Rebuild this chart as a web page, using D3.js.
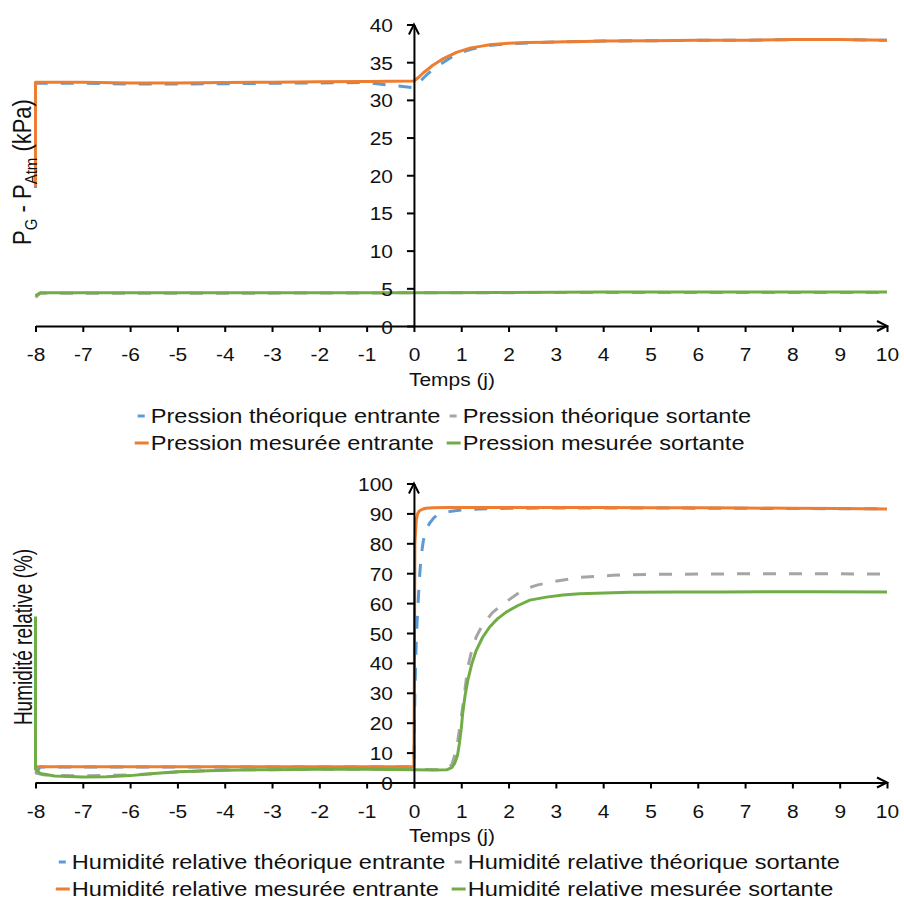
<!DOCTYPE html>
<html><head><meta charset="utf-8">
<script src="https://cdn.jsdelivr.net/npm/d3@7/dist/d3.min.js"></script>
<style>body{margin:0;background:#fff}text{font-family:"Liberation Sans",Arial,sans-serif;fill:#111}</style>
</head><body>
<svg id="c" width="904" height="914"></svg>
<script>
// ---------- data ----------
const xTicks = [-8,-7,-6,-5,-4,-3,-2,-1,0,1,2,3,4,5,6,7,8,9,10];
const pTicks = [0,5,10,15,20,25,30,35,40];
const hTicks = [0,10,20,30,40,50,60,70,80,90,100];
const xLabel = "Temps (j)";

const pLegend = ["Pression théorique entrante","Pression théorique sortante","Pression mesurée entrante","Pression mesurée sortante"];
const hLegend = ["Humidité relative théorique entrante","Humidité relative théorique sortante","Humidité relative mesurée entrante","Humidité relative mesurée sortante"];
const colors = ["#5B9BD5","#A5A5A5","#ED7D31","#70AD47"];
const dashed = [true,true,false,false];

// Pressure chart
const pEntX = [-8,-8,-7,-6,-5,-4,-3,-2,-1,0,0.1,0.2,0.3,0.4,0.5,0.6,0.7,0.8,0.9,1.0,1.2,1.4,1.6,1.8,2.0,2.4,2.8,3.2,3.6,4,5,6,7,8,9,10];
const pTheoEntY = [18.3,32.2,32.2,32.1,32.1,32.15,32.2,32.25,32.3,31.6,32.2,32.9,33.5,34.0,34.5,34.9,35.3,35.7,36.0,36.3,36.7,37.0,37.2,37.35,37.45,37.55,37.65,37.7,37.75,37.8,37.85,37.9,37.9,38.0,38.0,37.9];
const pMesEntY = [18.5,32.35,32.35,32.25,32.25,32.3,32.35,32.4,32.45,32.5,33.0,33.6,34.1,34.6,35.0,35.4,35.7,36.0,36.3,36.5,36.9,37.1,37.3,37.4,37.5,37.6,37.65,37.7,37.75,37.8,37.85,37.9,37.9,38.0,38.0,37.9];
const pTheoSorX = [-8,-7.9,-4,0,4,10];
const pTheoSorY = [3.8,4.35,4.35,4.4,4.45,4.45];
const pMesSorX = [-8,-7.9,-6,-4,-2,0,2,4,6,8,10];
const pMesSorY = [4.0,4.4,4.4,4.4,4.4,4.4,4.45,4.5,4.5,4.5,4.5];

// Humidity chart
const hTheoEntX = [-8,-7.9,-4,0,0.02,0.05,0.08,0.12,0.15,0.2,0.26,0.33,0.42,0.5,0.62,0.75,1.0,1.4,2,3,5,7,10];
const hTheoEntY = [3.0,5.2,5.2,5.2,30,48,58,69,75.5,81,84.5,86.7,88.5,89.5,90.2,90.6,91.1,91.5,91.7,91.8,91.8,91.7,91.5];
const hTheoSorX = [-8,-7.8,-7,-6,-5,-4,-2,0,0.5,0.7,0.8,0.9,0.96,1.02,1.07,1.14,1.22,1.32,1.42,1.53,1.66,1.81,2.0,2.3,2.6,2.94,3.5,4.2,5,6,7,8,9,10];
const hTheoSorY = [3.2,2.5,2.2,2.5,3.5,4.2,4.4,4.4,4.3,4.4,6,11,17.6,24,30,38.7,44,48.8,51.8,54.3,56.8,58.8,61,64.4,66,67.2,68.6,69.3,69.6,69.7,69.8,69.8,69.8,69.7];
const hMesEntX = [-8,-4,0,0.02,0.05,0.08,0.12,0.18,0.25,0.4,0.7,1,2,3,4,5,6,7,8,9,10];
const hMesEntY = [5.3,5.3,5.3,80,88,90,90.9,91.4,91.7,91.9,92,92,92,92,92,91.9,91.9,91.8,91.7,91.6,91.5];
const hMesSorX = [-8,-8,-7.9,-7.6,-7,-6.5,-6,-5.5,-5,-4,-3,-2,-1,0,0.4,0.7,0.8,0.86,0.92,0.96,1.0,1.03,1.08,1.14,1.22,1.32,1.45,1.6,1.77,1.95,2.2,2.45,2.8,3.15,3.5,3.86,4.56,5.5,6.5,7.5,8.5,10];
const hMesSorY = [55.5,4.5,3.0,2.2,1.8,1.9,2.3,3.0,3.6,4.1,4.3,4.4,4.4,4.3,4.2,4.3,5.0,6.4,9,13,18,23,29,34.3,39.5,44.3,48.5,52,54.8,57,59.2,61,62,62.7,63.1,63.3,63.6,63.7,63.7,63.8,63.8,63.7];

// ---------- drawing ----------
const SX = 1.1;        // horizontal text stretch (ticks, titles)
const FS = 19;         // font size
const LFS = 20, LSX = 1.18; // legend font
const svg = d3.select("#c");
const x = d3.scaleLinear().domain([-8,10]).range([35.5,887]);
const zip = (a,b) => a.map((v,i)=>[v,b[i]]);

function drawChart(cfg){
  const y = d3.scaleLinear().domain(cfg.ydom).range(cfg.yrange);
  const g = svg.append("g");
  const line = d3.line().x(d=>x(d[0])).y(d=>y(d[1]));
  cfg.series.forEach((s,i)=>{
    g.append("path").attr("d", line(zip(s[0],s[1])))
      .attr("fill","none").attr("stroke",colors[i]).attr("stroke-width",3)
      .attr("stroke-linejoin","round")
      .attr("stroke-dasharray", dashed[i] ? "13,13" : null);
  });
  const y0 = y(0), x0 = x(0);
  // x axis
  const xa = g.append("g").attr("transform",`translate(0,${y0})`)
    .call(d3.axisBottom(x).tickValues(xTicks).tickSize(6).tickSizeOuter(0).tickFormat(d=>String(d)));
  xa.selectAll("text").attr("y",null).attr("dy",null)
    .attr("transform",`translate(0,35) scale(${SX},1)`).style("font-size",FS+"px");
  // y axis
  const ya = g.append("g").attr("transform",`translate(${x0},0)`)
    .call(d3.axisLeft(y).tickValues(cfg.yticks).tickSize(7).tickSizeOuter(0).tickFormat(d=>String(d)));
  ya.selectAll("text").attr("x",null).attr("dy",null)
    .attr("transform",`translate(-21,7) scale(${SX},1)`).style("font-size",FS+"px");
  g.selectAll(".domain, .tick line").attr("stroke","#000").attr("stroke-width",2);
  // arrows
  const xe = x(10), yt = y(cfg.ydom[1]);
  g.append("path").attr("d",`M${xe-10},${y0-5}L${xe},${y0}L${xe-10},${y0+5}`)
    .attr("fill","none").attr("stroke","#000").attr("stroke-width",2);
  g.append("path").attr("d",`M${x0-5},${yt+10}L${x0},${yt}L${x0+5},${yt+10}`)
    .attr("fill","none").attr("stroke","#000").attr("stroke-width",2);
  // x title
  g.append("text").attr("transform",`translate(${cfg.xtitle[0]},${cfg.xtitle[1]}) scale(${SX},1)`)
    .attr("text-anchor","middle").style("font-size",FS+"px").text(xLabel);
  // y title
  const yt_ = g.append("text").attr("transform",`translate(${cfg.ytitle[0]},${cfg.ytitle[1]}) rotate(-90) scale(1,${cfg.ytsx})`)
    .attr("text-anchor","middle").style("font-size",cfg.ytfs+"px");
  cfg.ytext.forEach(p=>{
    const t = yt_.append("tspan").text(p[0]);
    if(p[1]) t.attr("dy",p[1]);
    if(p[2]) t.style("font-size",p[2]+"px");
  });
  // legend
  legend(g, cfg.legend, cfg.legY, cfg.legC);
}

function legend(g, labels, rows, cx){
  const lg = g.append("g");
  const tw = labels.map(l=>{
    const t = lg.append("text").style("font-size",LFS+"px").text(l);
    const w = t.node().getComputedTextLength()*LSX; t.remove(); return w;
  });
  const samp = 14, gap = 2, colgap = 6;
  const c1 = Math.max(tw[0],tw[2]), c2 = Math.max(tw[1],tw[3]);
  const total = samp+gap+c1+colgap+samp+gap+c2;
  const left = cx - total/2;
  const colX = [left, left+samp+gap+c1+colgap];
  labels.forEach((l,i)=>{
    const col = i%2, row = Math.floor(i/2);
    const sx = colX[col], cy = rows[row];
    if(dashed[i]){
      lg.append("line").attr("x1",sx+3).attr("x2",sx+10).attr("y1",cy).attr("y2",cy)
        .attr("stroke",colors[i]).attr("stroke-width",3);
    } else {
      lg.append("line").attr("x1",sx).attr("x2",sx+samp).attr("y1",cy).attr("y2",cy)
        .attr("stroke",colors[i]).attr("stroke-width",3);
    }
    lg.append("text").attr("transform",`translate(${sx+samp+gap},${cy+7}) scale(${LSX},1)`)
      .style("font-size",LFS+"px").text(l);
  });
}

drawChart({
  ydom:[0,40], yrange:[326,24.5], yticks:pTicks,
  series:[[pEntX,pTheoEntY],[pTheoSorX,pTheoSorY],[pEntX,pMesEntY],[pMesSorX,pMesSorY]],
  xtitle:[452,386], ytitle:[31,172], ytfs:22, ytsx:1.15,
  ytext:[["P"],["G",5,15],[" - P",-5,22],["Atm",5,15],[" (kPa)",-5,22]],
  legend:pLegend, legY:[416,443], legC:443
});
drawChart({
  ydom:[0,100], yrange:[782.5,483.5], yticks:hTicks,
  series:[[hTheoEntX,hTheoEntY],[hTheoSorX,hTheoSorY],[hMesEntX,hMesEntY],[hMesSorX,hMesSorY]],
  xtitle:[452,842], ytitle:[32,637], ytfs:19, ytsx:1.35,
  ytext:[["Humidité relative (%)"]],
  legend:hLegend, legY:[862,889], legC:448
});
</script>
</body></html>
